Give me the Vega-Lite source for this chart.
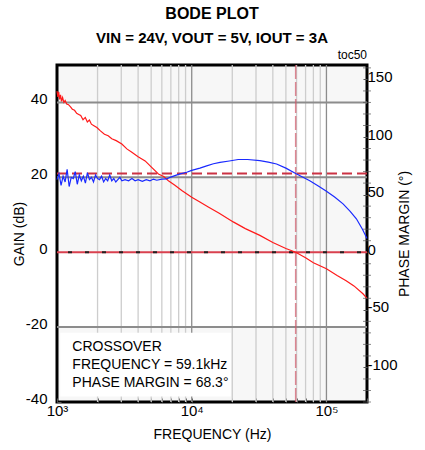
{
  "$schema": "https://vega.github.io/schema/vega-lite/v6.json",
  "width": 310,
  "height": 337,
  "padding": {"left": 12, "right": 5, "top": 5, "bottom": 5},
  "config": {
    "font": "Liberation Sans",
    "view": {"stroke": "black", "strokeWidth": 3},
    "axis": {
      "domain": false,
      "grid": false,
      "labelFont": "Liberation Sans",
      "labelFontSize": 15,
      "labelColor": "black",
      "titleFont": "Liberation Sans",
      "titleFontSize": 14,
      "titleFontWeight": "normal",
      "titleColor": "black",
      "tickColor": "#555",
      "tickSize": -4,
      "tickWidth": 1
    }
  },
  "title": {
    "text": "BODE PLOT",
    "subtitle": "VIN = 24V, VOUT = 5V, IOUT = 3A",
    "anchor": "middle",
    "font": "Liberation Sans",
    "subtitleFont": "Liberation Sans",
    "fontSize": 16,
    "fontWeight": "bold",
    "subtitleFontSize": 15,
    "subtitleFontWeight": "bold",
    "subtitleColor": "black",
    "color": "black",
    "subtitlePadding": 9,
    "offset": 3
  },
  "datasets": {
    "gain": [
      {"f": 1000, "g": 43}, {"f": 1015, "g": 41.5}, {"f": 1030, "g": 42.8}, {"f": 1045, "g": 40.8},
      {"f": 1062, "g": 42}, {"f": 1080, "g": 40.3}, {"f": 1100, "g": 41.3}, {"f": 1125, "g": 40},
      {"f": 1150, "g": 40.5}, {"f": 1180, "g": 39.6}, {"f": 1218, "g": 39.4}, {"f": 1260, "g": 38.8},
      {"f": 1300, "g": 38.2}, {"f": 1350, "g": 37.9}, {"f": 1400, "g": 37.1}, {"f": 1450, "g": 36.8},
      {"f": 1500, "g": 36.5}, {"f": 1560, "g": 35.4}, {"f": 1622, "g": 36}, {"f": 1680, "g": 34.8},
      {"f": 1740, "g": 35.3}, {"f": 1800, "g": 34.2}, {"f": 1880, "g": 33.8}, {"f": 1977, "g": 33.3},
      {"f": 2100, "g": 32.4}, {"f": 2250, "g": 31.5}, {"f": 2399, "g": 31.1}, {"f": 2550, "g": 30.3},
      {"f": 2750, "g": 29.8}, {"f": 3029, "g": 28.9}, {"f": 3300, "g": 27.6}, {"f": 3594, "g": 26.7},
      {"f": 4000, "g": 25.5}, {"f": 4510, "g": 24.4}, {"f": 5000, "g": 22.8}, {"f": 5659, "g": 20.9},
      {"f": 6200, "g": 20.2}, {"f": 6711, "g": 19.1}, {"f": 7500, "g": 17.9}, {"f": 8440, "g": 16.5},
      {"f": 10000, "g": 14.7}, {"f": 11500, "g": 13.4}, {"f": 13270, "g": 12.1}, {"f": 16000, "g": 10.4},
      {"f": 20330, "g": 8.1}, {"f": 25000, "g": 6.3}, {"f": 32050, "g": 4.5}, {"f": 40000, "g": 2.6},
      {"f": 50000, "g": 1.0}, {"f": 59100, "g": 0}, {"f": 70000, "g": -1.5}, {"f": 80000, "g": -2.8},
      {"f": 100000, "g": -4.4}, {"f": 120000, "g": -6.2}, {"f": 140000, "g": -7.6}, {"f": 160000, "g": -9.0},
      {"f": 186600, "g": -11.1}, {"f": 200000, "g": -12.3}
    ],
    "phase": [
      {"f": 1000, "p": 63}, {"f": 1035, "p": 68}, {"f": 1072, "p": 58}, {"f": 1110, "p": 66},
      {"f": 1149, "p": 61}, {"f": 1189, "p": 72}, {"f": 1231, "p": 57}, {"f": 1275, "p": 65},
      {"f": 1320, "p": 64}, {"f": 1366, "p": 70}, {"f": 1414, "p": 59}, {"f": 1464, "p": 67},
      {"f": 1516, "p": 62}, {"f": 1569, "p": 66}, {"f": 1625, "p": 60}, {"f": 1682, "p": 69},
      {"f": 1741, "p": 63}, {"f": 1803, "p": 65}, {"f": 1866, "p": 61}, {"f": 1932, "p": 67},
      {"f": 2000, "p": 64}, {"f": 2070, "p": 63}, {"f": 2143, "p": 66}, {"f": 2219, "p": 61},
      {"f": 2297, "p": 64}, {"f": 2378, "p": 62}, {"f": 2462, "p": 67}, {"f": 2549, "p": 62},
      {"f": 2639, "p": 64}, {"f": 2732, "p": 61}, {"f": 2828, "p": 63}, {"f": 2928, "p": 65},
      {"f": 3031, "p": 62}, {"f": 3200, "p": 63}, {"f": 3400, "p": 62}, {"f": 3600, "p": 64},
      {"f": 3800, "p": 62}, {"f": 4000, "p": 63}, {"f": 4300, "p": 61.5}, {"f": 4600, "p": 63},
      {"f": 4900, "p": 62}, {"f": 5200, "p": 63.5}, {"f": 5500, "p": 62.5}, {"f": 6000, "p": 63.5},
      {"f": 6500, "p": 63.6}, {"f": 6900, "p": 65}, {"f": 7500, "p": 66.5}, {"f": 8200, "p": 68},
      {"f": 9180, "p": 69.4}, {"f": 10000, "p": 71}, {"f": 11500, "p": 73}, {"f": 12910, "p": 75},
      {"f": 14500, "p": 76.8}, {"f": 16220, "p": 78}, {"f": 19000, "p": 79.2}, {"f": 22130, "p": 80.5},
      {"f": 26000, "p": 80.5}, {"f": 32050, "p": 79.5}, {"f": 37000, "p": 78.2}, {"f": 42650, "p": 76.6},
      {"f": 50000, "p": 73}, {"f": 59100, "p": 68.3}, {"f": 67000, "p": 65}, {"f": 75200, "p": 62},
      {"f": 87000, "p": 57.5}, {"f": 100000, "p": 53}, {"f": 115000, "p": 48}, {"f": 132800, "p": 42},
      {"f": 150000, "p": 35.5}, {"f": 166800, "p": 29}, {"f": 185000, "p": 20}, {"f": 200000, "p": 12}
    ],
    "bands": [{"lo": 40, "hi": 50}, {"lo": 0, "hi": 20}, {"lo": -40, "hi": -20}],
    "vgrid": [
      {"f": 2000}, {"f": 3000}, {"f": 4000}, {"f": 5000}, {"f": 6000}, {"f": 7000}, {"f": 8000}, {"f": 9000},
      {"f": 10000}, {"f": 20000}, {"f": 30000}, {"f": 40000}, {"f": 50000}, {"f": 60000}, {"f": 70000},
      {"f": 80000}, {"f": 90000}, {"f": 100000}
    ],
    "hgrid": [{"g": 40}, {"g": 20}, {"g": -20}],
    "zero": [{"g": 0}],
    "pm": [{"p": 68.3}],
    "ptick": [
      {"f": 200000, "p": -130}, {"f": 200000, "p": -120}, {"f": 200000, "p": -110}, {"f": 200000, "p": -90},
      {"f": 200000, "p": -80}, {"f": 200000, "p": -70}, {"f": 200000, "p": -60}, {"f": 200000, "p": -40},
      {"f": 200000, "p": -30}, {"f": 200000, "p": -20}, {"f": 200000, "p": -10}, {"f": 200000, "p": 10},
      {"f": 200000, "p": 20}, {"f": 200000, "p": 30}, {"f": 200000, "p": 40}, {"f": 200000, "p": 60},
      {"f": 200000, "p": 70}, {"f": 200000, "p": 80}, {"f": 200000, "p": 90}, {"f": 200000, "p": 110},
      {"f": 200000, "p": 120}, {"f": 200000, "p": 130}, {"f": 200000, "p": 140}, {"f": 200000, "p": 160}
    ],
    "xo": [{"f": 59100}],
    "box": [{"f": 1058, "f2": 19500, "g": -21.5, "g2": -38.5}],
    "note": [
      {"f": 1300, "g": -25.2, "t": "CROSSOVER"},
      {"f": 1300, "g": -30.0, "t": "FREQUENCY = 59.1kHz"},
      {"f": 1300, "g": -35.0, "t": "PHASE MARGIN = 68.3°"}
    ],
    "toc": [{"f": 200000, "g": 52.8, "t": "toc50"}]
  },
  "layer": [
    {
      "layer": [
        {
          "data": {"name": "bands"},
          "mark": {"type": "rect", "fill": "#000", "opacity": 0.03},
          "encoding": {
            "y": {"field": "lo", "type": "quantitative", "scale": {"domain": [-40, 50], "nice": false, "zero": false},
              "axis": {"orient": "left", "title": "GAIN (dB)", "values": [-40,-35,-30,-25,-20,-15,-10,-5,0,5,10,15,20,25,30,35,40,45,50],
                "labelExpr": "datum.value % 20 === 0 ? '' + datum.value : ''", "labelOverlap": false, "labelPadding": 14, "labelOffset": -4, "titlePadding": -1}},
            "y2": {"field": "hi"}
          }
        },
        {
          "data": {"name": "vgrid"},
          "mark": {"type": "rule", "strokeWidth": 1.3},
          "encoding": {
            "x": {"field": "f", "type": "quantitative", "scale": {"type": "log", "domain": [1000, 200000], "nice": false},
              "axis": {"title": "FREQUENCY (Hz)", "values": [1000,2000,3000,4000,5000,6000,7000,8000,9000,10000,20000,30000,40000,50000,60000,70000,80000,90000,100000,200000],
                "labelExpr": "datum.value === 1000 ? '10³' : datum.value === 10000 ? '10⁴' : datum.value === 100000 ? '10⁵' : ''",
                "labelOverlap": false, "labelFlush": false, "labelPadding": 5, "titlePadding": 9}},
            "color": {"condition": {"test": "datum.f === 10000 || datum.f === 100000", "value": "#8c8c8c"}, "value": "#cdcdcd"}
          }
        },
        {
          "data": {"name": "hgrid"},
          "mark": {"type": "rule", "color": "#8c8c8c", "strokeWidth": 2},
          "encoding": {"y": {"field": "g", "type": "quantitative"}}
        },
        {
          "data": {"name": "box"},
          "mark": {"type": "rect", "fill": "white"},
          "encoding": {
            "x": {"field": "f", "type": "quantitative"},
            "x2": {"field": "f2"},
            "y": {"field": "g", "type": "quantitative"},
            "y2": {"field": "g2"}
          }
        },
        {
          "data": {"name": "zero"},
          "mark": {"type": "rule", "color": "#d9414f", "strokeWidth": 2},
          "encoding": {"y": {"field": "g", "type": "quantitative"}}
        },
        {
          "data": {"name": "zero"},
          "mark": {"type": "rule", "color": "#222", "strokeWidth": 2, "strokeDash": [4, 13], "strokeDashOffset": -6},
          "encoding": {"y": {"field": "g", "type": "quantitative"}}
        },
        {
          "data": {"name": "xo"},
          "mark": {"type": "rule", "color": "#d05566", "strokeWidth": 1.5, "strokeDash": [14, 3], "opacity": 0.7},
          "encoding": {"x": {"field": "f", "type": "quantitative"}}
        },
        {
          "data": {"name": "gain"},
          "mark": {"type": "line", "color": "#ff1a1a", "strokeWidth": 1.2},
          "encoding": {
            "x": {"field": "f", "type": "quantitative"},
            "y": {"field": "g", "type": "quantitative"}
          }
        },
        {
          "data": {"name": "note"},
          "mark": {"type": "text", "align": "left", "baseline": "middle", "fontSize": 14, "color": "black", "font": "Liberation Sans"},
          "encoding": {
            "x": {"field": "f", "type": "quantitative"},
            "y": {"field": "g", "type": "quantitative"},
            "text": {"field": "t"}
          }
        },
        {
          "data": {"name": "toc"},
          "mark": {"type": "text", "align": "right", "baseline": "middle", "fontSize": 12, "color": "black", "font": "Liberation Sans"},
          "encoding": {
            "x": {"field": "f", "type": "quantitative"},
            "y": {"field": "g", "type": "quantitative"},
            "text": {"field": "t"}
          }
        }
      ]
    },
    {
      "layer": [
        {
          "data": {"name": "pm"},
          "mark": {"type": "rule", "color": "#cc3344", "strokeWidth": 2, "strokeDash": [10, 5]},
          "encoding": {
            "y": {"field": "p", "type": "quantitative", "scale": {"domain": [-130, 162.5], "nice": false, "zero": false},
              "axis": {"orient": "right", "title": "PHASE MARGIN (°)", "titleAngle": 270, "values": [-100, -50, 0, 50, 100, 150],
                "labelExpr": "'' + datum.value",
                "labelOverlap": false, "labelPadding": 4, "labelOffset": -3, "titlePadding": 14}}
          }
        },
        {
          "data": {"name": "ptick"},
          "mark": {"type": "tick", "orient": "horizontal", "color": "#555", "size": 8, "thickness": 1},
          "encoding": {
            "x": {"field": "f", "type": "quantitative"},
            "y": {"field": "p", "type": "quantitative"}
          }
        },
        {
          "data": {"name": "phase"},
          "mark": {"type": "line", "color": "#1a2aff", "strokeWidth": 1.2},
          "encoding": {
            "x": {"field": "f", "type": "quantitative"},
            "y": {"field": "p", "type": "quantitative"}
          }
        }
      ]
    }
  ],
  "resolve": {"scale": {"y": "independent"}}
}
